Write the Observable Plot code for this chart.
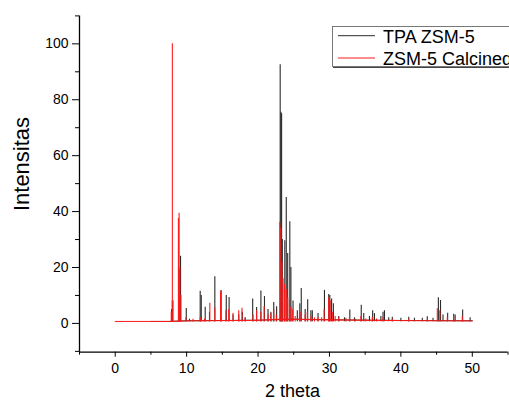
<!DOCTYPE html>
<html><head><meta charset="utf-8">
<script src="https://cdn.jsdelivr.net/npm/d3@7"></script>
<script src="https://cdn.jsdelivr.net/npm/@observablehq/plot@0.6"></script>
<style>body{margin:0;background:#fff;overflow:hidden}#chart svg{display:block}</style>
</head><body><div id="chart"></div>
<script>
const seriesNames = ["TPA ZSM-5", "ZSM-5 Calcined"];
const seriesColors = ["#2a2a2a", "#ff1a1a"];
const xLabel = "2 theta";
const yLabel = "Intensitas";
const xMajor = [0, 10, 20, 30, 40, 50];
const xMinor = [-5, 5, 15, 25, 35, 45, 55];
const yMajor = [0, 20, 40, 60, 80, 100];
const yMinor = [-10, 10, 30, 50, 70, 90, 110];
const xDomain = [-5, 55];
const yDomain = [-10.3, 110];

// TPA ZSM-5 peaks: [2theta, intensity]
const tpaPeaks = [
  [7.9,5],[8.0,8],[8.95,19],[9.15,24],[9.95,5.3],[10.4,1.5],[11.9,11.5],[12.05,10],[12.6,5.8],[13.2,4],
  [13.95,16.7],[14.8,11.7],[15.55,10],[15.95,9.3],[16.5,3],[17.3,3],[17.8,4],[18.2,2],[19.25,8.7],[19.8,5.7],
  [20.4,11.6],[20.9,9.6],[21.4,5],[21.8,4],[22.2,7.5],[22.6,6],[23.1,92.5],[23.2,75.5],[23.3,75],[23.4,30],
  [23.75,29.6],[23.95,45],[24.15,25],[24.45,36.4],[24.6,20],[24.9,8],[25.5,4.5],[25.85,7],[26.05,12.5],[26.6,5],
  [26.95,8.5],[27.4,4.5],[27.6,4.5],[28.4,3.5],[29.3,11.8],[29.9,10.3],[30.05,10],[30.3,8.7],[30.55,7],[31.3,2.5],
  [32.1,2],[32.85,4.8],[33.5,2],[34.45,6.5],[34.8,3.5],[35.6,2.5],[36.05,4.5],[36.3,3.5],[37.2,2.5],[37.5,4],
  [37.7,4.5],[38.3,2],[38.8,2.2],[40.0,1.8],[41.1,2.2],[41.9,1.8],[43.0,1.8],[43.7,2.4],[44.5,1.8],[45.25,9.2],
  [45.55,8.2],[45.9,3],[46.55,3.6],[47.4,3.3],[47.6,3],[48.65,4.8],[49.7,2]
];
// ZSM-5 Calcined peaks
const calcPeaks = [
  [7.85,4],[8.0,100],[8.1,8],[8.85,37.5],[8.95,39.4],[9.05,20],[9.2,10],[9.9,2],[10.9,1.5],[11.9,2],
  [12.5,1.5],[13.25,7.2],[13.95,5.5],[14.75,11.2],[14.85,11.7],[15.5,4.5],[15.9,5],[16.5,3.5],[17.3,4.5],[17.75,5.4],
  [18.2,2],[19.3,3],[19.8,4.5],[20.4,4],[20.85,6],[21.4,3],[21.8,3.5],[22.2,5],[22.55,3],[23.05,36.2],
  [23.2,34],[23.35,22],[23.5,16],[23.7,14],[23.95,12],[24.15,9],[24.4,8],[24.6,6],[24.8,5],[25.2,2.5],[25.8,3],[26.0,4],[26.6,3],
  [26.9,4],[27.4,2.5],[27.9,2],[28.4,2],[28.9,2],[29.25,5],[29.9,9.3],[30.1,8],[30.4,4],[30.8,2.5],[31.3,2],[32.3,1.8],[32.8,2],[33.6,1.6],[34.4,2.5],
  [35.1,1.6],[36.0,2.2],[36.6,1.6],[37.5,2],[38.8,1.5],[41.1,1.5],[43.7,1.5],[45.1,5.2],[45.45,4.5],[46.5,2.2],[47.4,2.2],[48.6,2.5]
];
// baselines
const tpaBase = [[5,0.7],[7.5,0.7],[10,0.95],[20,1.15],[25,1.5],[30,1.3],[40,1.05],[50,0.95]];
const calcBase = [[0,0.7],[7.5,0.7],[10,0.9],[20,1.1],[23,1.5],[26,1.4],[32,1.2],[40,1.0],[50,0.9]];

const font = "'Liberation Sans', Arial, sans-serif";

const chart = Plot.plot({
  width: 509,
  height: 402,
  marginLeft: 79,
  marginRight: 1.5,
  marginTop: 15.4,
  marginBottom: 50.3,
  style: {fontSize: "14px", fontFamily: font, color: "#000", background: "#fff"},
  x: {domain: xDomain},
  y: {domain: yDomain},
  marks: [
    Plot.line(tpaBase, {x: d => d[0], y: d => d[1], stroke: seriesColors[0], strokeWidth: 1}),
    Plot.ruleX(tpaPeaks, {x: d => d[0], y1: 0.6, y2: d => d[1], stroke: seriesColors[0], strokeWidth: 1.1}),
    Plot.line(calcBase, {x: d => d[0], y: d => d[1], stroke: seriesColors[1], strokeWidth: 1}),
    Plot.ruleX(calcPeaks, {x: d => d[0], y1: 0.5, y2: d => d[1], stroke: seriesColors[1], strokeWidth: 1.1}),
    Plot.ruleX([xDomain[0]], {stroke: "#000", strokeWidth: 1.3}),
    Plot.ruleY([yDomain[0]], {stroke: "#000", strokeWidth: 1.3}),
    Plot.axisX(xMajor, {tickSize: 5, tickPadding: 6, label: null, stroke: "#000"}),
    Plot.axisX(xMinor, {tickSize: 3, tickFormat: () => "", label: null, stroke: "#000"}),
    Plot.axisY(yMajor, {tickSize: 7, tickPadding: 4, label: null, stroke: "#000"}),
    Plot.axisY(yMinor, {tickSize: 4, tickFormat: () => "", label: null, stroke: "#000"})
  ]
});

document.getElementById("chart").appendChild(chart);

const svg = d3.select(chart);
svg.append("text")
  .attr("x", 292.5).attr("y", 397)
  .attr("text-anchor", "middle")
  .attr("font-size", 18).attr("font-family", font).attr("fill", "#000")
  .text(xLabel);
svg.append("text")
  .attr("transform", "translate(29,164) rotate(-90)")
  .attr("text-anchor", "middle")
  .attr("font-size", 22).attr("font-family", font).attr("fill", "#000")
  .text(yLabel);

const lg = svg.append("g").attr("text-anchor", "start");
lg.append("rect").attr("x", 332.5).attr("y", 26.5).attr("width", 200).attr("height", 40)
  .attr("fill", "#fff").attr("stroke", "#777");
lg.append("line").attr("x1", 333).attr("x2", 520).attr("y1", 67.5).attr("y2", 67.5)
  .attr("stroke", "#444").attr("stroke-width", 1.2);
seriesNames.forEach((name, i) => {
  const y = 35.7 + i * 22.3;
  lg.append("line").attr("x1", 338).attr("x2", 375).attr("y1", y).attr("y2", y)
    .attr("stroke", seriesColors[i]).attr("stroke-width", 1);
  lg.append("text").attr("x", 383).attr("y", y + 6.8)
    .attr("text-anchor", "start")
    .attr("font-size", 18).attr("font-family", font).attr("fill", "#000")
    .text(name);
});
</script>
</body></html>
